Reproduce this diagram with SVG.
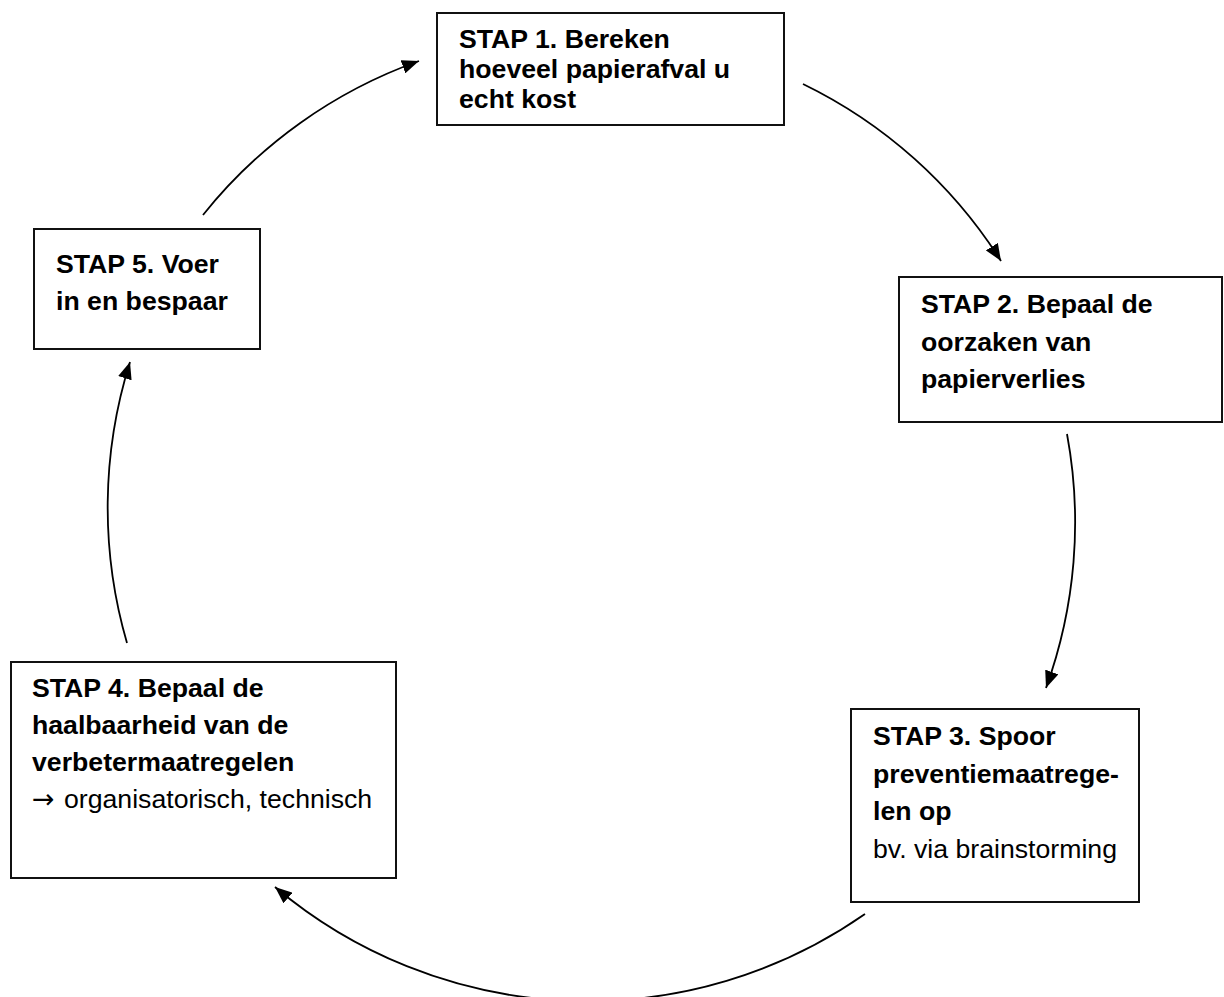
<svg xmlns="http://www.w3.org/2000/svg" width="1224" height="997" viewBox="0 0 1224 997">
  <style>
    .box { fill: #ffffff; stroke: #111111; stroke-width: 2; }
    .t { font-family: "Liberation Sans", Arial, sans-serif; font-size: 26.67px; fill: #000000; }
    .b { font-weight: bold; }
    .sym { font-family: "DejaVu Sans", sans-serif; font-size: 27px; }
    .conn { fill: none; stroke: #000000; stroke-width: 1.8; marker-end: url(#arrow); }
  </style>
  <defs>
    <marker id="arrow" markerUnits="userSpaceOnUse" markerWidth="18" markerHeight="14" refX="17" refY="7" orient="auto">
      <path d="M0,0 L17,7 L0,14 z" fill="#000000"/>
    </marker>
  </defs>
  <rect width="1224" height="997" fill="#ffffff"/>

  <g id="connectors">
    <path class="conn" d="M 803 84 A 485 485 0 0 1 1001 261"/>
    <path class="conn" d="M 1067 434 A 485 485 0 0 1 1046 688"/>
    <path class="conn" d="M 865 914 A 485 485 0 0 1 275 887"/>
    <path class="conn" d="M 127 643 A 485 485 0 0 1 130 362"/>
    <path class="conn" d="M 203 215 A 485 485 0 0 1 419 61"/>
  </g>

  <g id="stap1">
    <rect class="box" x="437" y="13" width="347" height="112"/>
    <text class="t b" x="459" y="48">STAP 1. Bereken</text>
    <text class="t b" x="459" y="78">hoeveel papierafval u</text>
    <text class="t b" x="459" y="108">echt kost</text>
  </g>

  <g id="stap2">
    <rect class="box" x="899" y="277" width="323" height="145"/>
    <text class="t b" x="921" y="313">STAP 2. Bepaal de</text>
    <text class="t b" x="921" y="350.5">oorzaken van</text>
    <text class="t b" x="921" y="388">papierverlies</text>
  </g>

  <g id="stap3">
    <rect class="box" x="851" y="709" width="288" height="193"/>
    <text class="t b" x="873" y="745">STAP 3. Spoor</text>
    <text class="t b" x="873" y="782.5">preventiemaatrege-</text>
    <text class="t b" x="873" y="820">len op</text>
    <text class="t" x="873" y="857.5">bv. via brainstorming</text>
  </g>

  <g id="stap4">
    <rect class="box" x="11" y="662" width="385" height="216"/>
    <text class="t b" x="32" y="697">STAP 4. Bepaal de</text>
    <text class="t b" x="32" y="734">haalbaarheid van de</text>
    <text class="t b" x="32" y="771">verbetermaatregelen</text>
    <text class="t" x="32" y="807.5"><tspan class="sym">→</tspan><tspan x="64">organisatorisch, technisch</tspan></text>
  </g>

  <g id="stap5">
    <rect class="box" x="34" y="229" width="226" height="120"/>
    <text class="t b" x="56" y="273">STAP 5. Voer</text>
    <text class="t b" x="56" y="310">in en bespaar</text>
  </g>
</svg>
